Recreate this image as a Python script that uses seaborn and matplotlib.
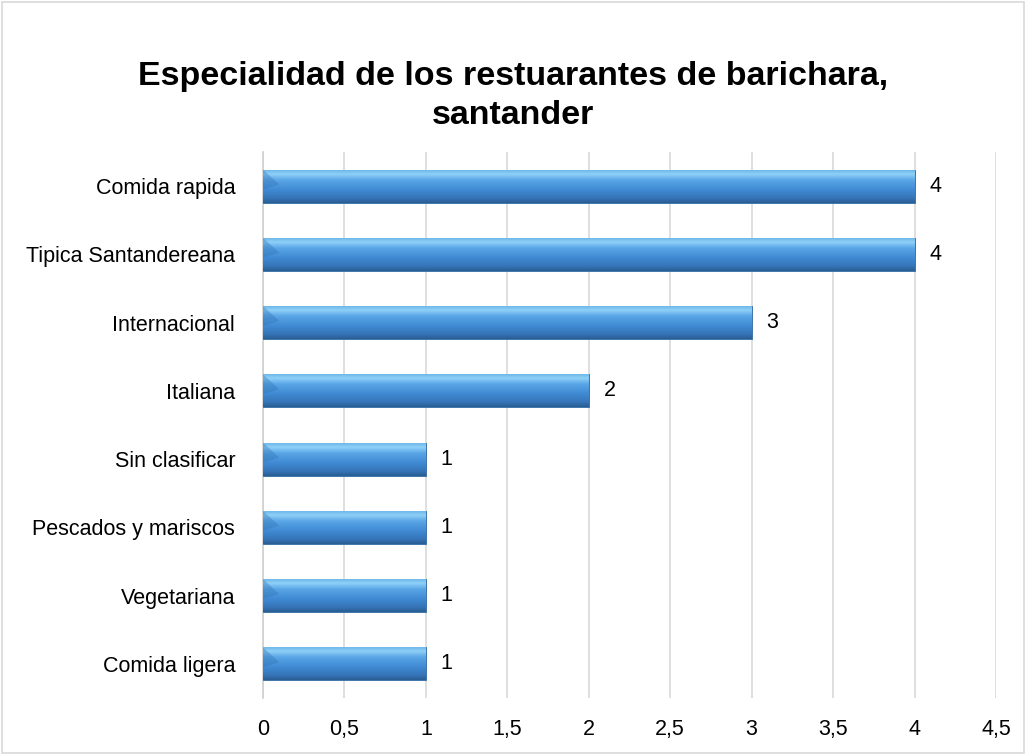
import matplotlib
matplotlib.use("Agg")
import matplotlib.pyplot as plt
import seaborn as sns
import numpy as np
import pandas as pd
from matplotlib.colors import LinearSegmentedColormap
from matplotlib import font_manager

categories = ["Comida rapida", "Tipica Santandereana", "Internacional", "Italiana",
              "Sin clasificar", "Pescados y mariscos", "Vegetariana", "Comida ligera"]
values = [4, 4, 3, 2, 1, 1, 1, 1]
xticks = [0, 0.5, 1, 1.5, 2, 2.5, 3, 3.5, 4, 4.5]
xtick_labels = ["0", "0,5", "1", "1,5", "2", "2,5", "3", "3,5", "4", "4,5"]
title = "Especialidad de los restuarantes de barichara,\nsantander"

sns.set_theme(style="white")
names = {f.name for f in font_manager.fontManager.ttflist}
narrow = "Liberation Sans Narrow" if "Liberation Sans Narrow" in names else "Liberation Sans"
plt.rcParams['font.family'] = [narrow, 'DejaVu Sans']

df = pd.DataFrame({"cat": categories, "val": values})

fig = plt.figure(figsize=(10.26, 7.55), dpi=100)
ax = fig.add_axes([263/1026, 1-698/755, (996-263)/1026, (698-152)/755])

sns.barplot(data=df, x="val", y="cat", orient="h", color="#4a90d9", width=0.48,
            ax=ax, zorder=3, edgecolor="#2f6aa3", linewidth=0.6)

cmap = LinearSegmentedColormap.from_list("bev", [
    (0.0, "#6fb8ea"), (0.12, "#8fd0f7"), (0.3, "#5aa6e6"),
    (0.6, "#3f8ad3"), (0.85, "#3675b8"), (1.0, "#2a5e93")])
grad = np.linspace(0, 1, 100).reshape(-1, 1)
for p in ax.patches:
    x0, y0 = p.get_x(), p.get_y()
    w, h = p.get_width(), p.get_height()
    im = ax.imshow(grad, cmap=cmap, aspect="auto",
                   extent=(x0, x0 + w, y0 + h, y0), zorder=4, interpolation="bilinear")
    im.set_clip_path(p)
    ax.fill([x0, x0 + 0.1, x0], [y0, y0 + h * 0.45, y0 + h * 0.6],
            color="#2f6fb0", alpha=0.35, zorder=5, lw=0)

for i, v in enumerate(values):
    ax.text(v + 0.09, i, str(v), va="center", ha="left", fontsize=15.5, color="#000000", zorder=6)

ax.set_xlim(0, 4.5)
ax.set_ylim(len(categories) - 0.5, -0.5)
ax.set_xticks(xticks)
ax.set_xticklabels(xtick_labels, fontsize=15.5, color="#000000")
ax.tick_params(axis="y", labelsize=15.5, length=0, pad=20, labelcolor="#000000")
ax.tick_params(axis="x", length=0, pad=15)
ax.set_xlabel("")
ax.set_ylabel("")
ax.xaxis.grid(True, color="#d9d9d9", linewidth=1.2, zorder=0)
ax.set_axisbelow(True)
for s in ["top", "right", "bottom"]:
    ax.spines[s].set_visible(False)
ax.spines["left"].set_color("#d0d0d0")
ax.spines["left"].set_linewidth(1.2)

fig.text(0.5, 1 - 96/755, title, ha="center", va="center", fontsize=24.5,
         fontweight="bold", color="#000000", linespacing=1.3,
         family=["Liberation Sans", "DejaVu Sans"])

border = plt.Rectangle((0.002, 0.002), 0.996, 0.996, transform=fig.transFigure,
                       fill=False, edgecolor="#d9d9d9", linewidth=1.2)
fig.patches.append(border)

fig.savefig("out.png", dpi=100, facecolor="white")
